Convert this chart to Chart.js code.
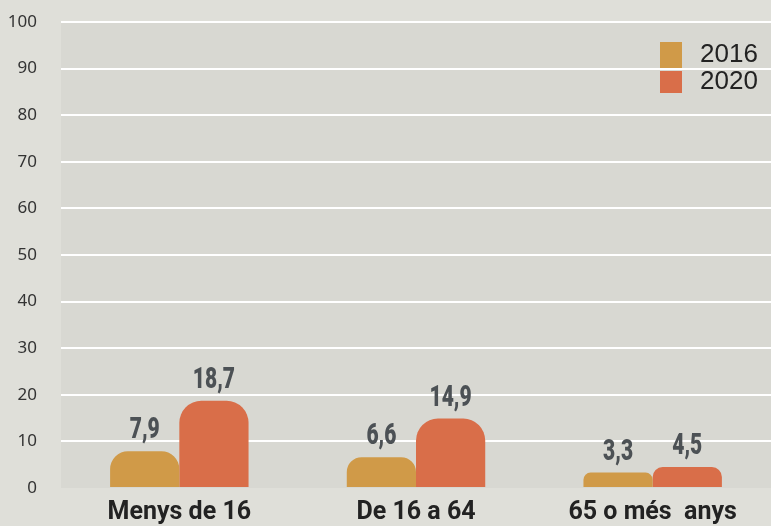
<!DOCTYPE html>
<html>
<head>
<meta charset="utf-8">
<script src="https://cdn.jsdelivr.net/npm/chart.js@4.4.1/dist/chart.umd.min.js"></script>
<style>
    html, body { margin: 0; padding: 0; background: #dfdfd9; }
    #wrap { width: 771px; height: 526px; }
</style>
</head>
<body>
<div id="wrap"><canvas id="chart" width="771" height="526"></canvas></div>
<script>
const categories = ['Menys de 16', 'De 16 a 64', '65 o més  anys'];
const seriesNames = ['2016', '2020'];
const values2016 = [7.9, 6.6, 3.3];
const values2020 = [18.7, 14.9, 4.5];
const yTicks = [0, 10, 20, 30, 40, 50, 60, 70, 80, 90, 100];

const colors = ['#d09a48', '#d96e49'];

// fons de l'àrea del gràfic
const plotBg = {
    id: 'plotBg',
    beforeDraw(chart) {
        const { ctx, chartArea: a } = chart;
        ctx.save();
        ctx.fillStyle = '#d8d8d2';
        ctx.fillRect(a.left, a.top, a.right - a.left, a.bottom - a.top);
        ctx.restore();
    }
};

// etiquetes de valor sobre les barres
const valueLabels = {
    id: 'valueLabels',
    afterDatasetsDraw(chart) {
        const ctx = chart.ctx;
        ctx.save();
        ctx.fillStyle = '#4c5155';
        ctx.font = '900 30px Roboto';
        ctx.textAlign = 'center';
        ctx.textBaseline = 'alphabetic';
        chart.data.datasets.forEach((ds, i) => {
            chart.getDatasetMeta(i).data.forEach((bar, j) => {
                const txt = ds.data[j].toFixed(1).replace('.', ',');
                ctx.save();
                ctx.translate(bar.x, bar.y - 13);
                ctx.scale(0.7, 1);
                ctx.fillText(txt, 0, 0);
                ctx.restore();
            });
        });
        ctx.restore();
    }
};

// llegenda vertical a dalt a la dreta
const sideLegend = {
    id: 'sideLegend',
    afterDraw(chart) {
        const ctx = chart.ctx;
        const boxes = [[660, 42, 22, 26], [660, 71, 22, 22]];
        const textY = [55, 82];
        ctx.save();
        ctx.font = '26px "Liberation Sans"';
        ctx.textBaseline = 'middle';
        ctx.textAlign = 'left';
        chart.data.datasets.forEach((ds, i) => {
            const b = boxes[i];
            ctx.fillStyle = ds.backgroundColor;
            ctx.fillRect(b[0], b[1], b[2], b[3]);
            ctx.fillStyle = '#222';
            ctx.fillText(ds.label, 700, textY[i]);
        });
        ctx.restore();
    }
};

new Chart(document.getElementById('chart'), {
    type: 'bar',
    data: {
        labels: categories,
        datasets: [
            { label: seriesNames[0], data: values2016, backgroundColor: colors[0] },
            { label: seriesNames[1], data: values2020, backgroundColor: colors[1] }
        ]
    },
    options: {
        responsive: false,
        animation: false,
        devicePixelRatio: 1,
        layout: { padding: { top: 22, right: 0, left: 0, bottom: 0 } },
        datasets: {
            bar: {
                categoryPercentage: 0.585,
                barPercentage: 1,
                borderRadius: { topLeft: 22, topRight: 22, bottomLeft: 0, bottomRight: 0 },
                borderSkipped: 'bottom'
            }
        },
        plugins: {
            legend: { display: false },
            tooltip: { enabled: false }
        },
        scales: {
            x: {
                grid: { display: false, drawTicks: false },
                border: { display: false },
                ticks: {
                    color: '#222',
                    font: { family: 'Roboto', size: 25, weight: 'bold' },
                    padding: 10
                },
                afterFit(scale) { scale.height = 38; scale.paddingLeft = 0; scale.paddingRight = 0; }
            },
            y: {
                min: 0,
                max: 100,
                afterBuildTicks(scale) { scale.ticks = yTicks.map(v => ({ value: v })); },
                grid: {
                    color: ctx => ctx.tick && ctx.tick.value === 0 ? 'rgba(0,0,0,0)' : '#ffffff',
                    lineWidth: 2,
                    drawTicks: false
                },
                border: { display: false },
                ticks: {
                    color: '#333',
                    font: { family: 'Noto Sans', size: 17 },
                    padding: 24
                },
                afterFit(scale) { scale.width = 61; scale.paddingTop = 0; scale.paddingBottom = 0; }
            }
        }
    },
    plugins: [plotBg, valueLabels, sideLegend]
});
</script>
</body>
</html>
